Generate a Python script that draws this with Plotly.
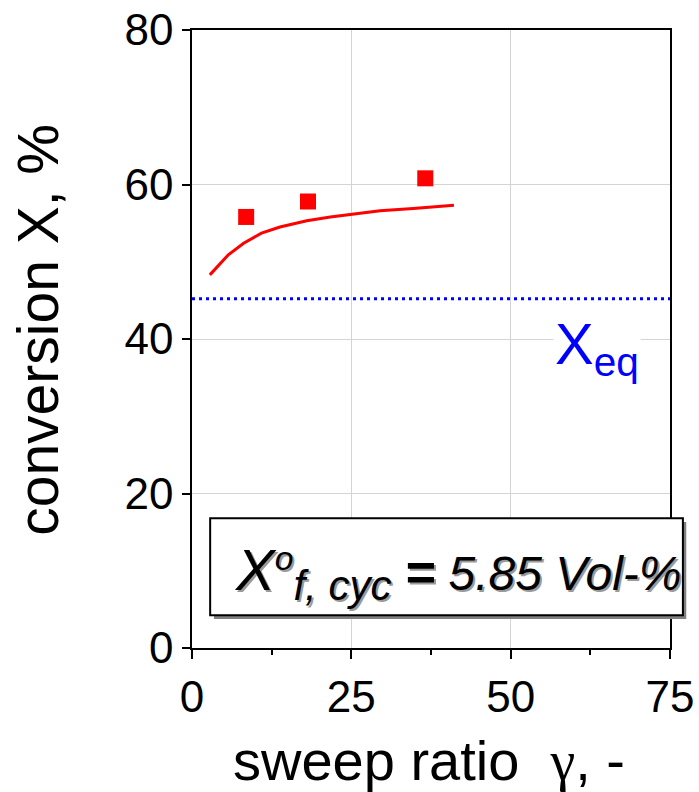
import plotly.graph_objects as go

# measured points
meas_x = [8.5, 18.2, 36.6]
meas_y = [55.8, 57.8, 60.8]

# model curve
model_x = [2.8, 5.7, 8.1, 10.9, 13.8, 18.0, 21.7, 25.2, 29.5, 34.7, 41.1]
model_y = [48.3, 50.9, 52.4, 53.7, 54.5, 55.3, 55.8, 56.2, 56.6, 56.9, 57.3]

# equilibrium conversion
eq_x = [0, 75]
eq_y = [45.2, 45.2]

x_ticks = [0, 25, 50, 75]
y_ticks = [0, 20, 40, 60, 80]

FONT = "Liberation Sans, Arial, sans-serif"

fig = go.Figure()
fig.add_trace(go.Scatter(x=eq_x, y=eq_y, mode="lines",
                         line=dict(color="#0000ff", width=3, dash="3px,4px"),
                         showlegend=False, hoverinfo="skip"))
fig.add_trace(go.Scatter(x=model_x, y=model_y, mode="lines",
                         line=dict(color="#ff0000", width=3),
                         showlegend=False))
fig.add_trace(go.Scatter(x=meas_x, y=meas_y, mode="markers",
                         marker=dict(symbol="square", size=16, color="#ff0000"),
                         showlegend=False))

# equilibrium label
fig.add_annotation(x=63.6, y=38.8, xref="x", yref="y",
                   text="X<sub>eq</sub>", showarrow=False,
                   font=dict(family=FONT, size=58, color="#0000ff"),
                   xanchor="center", yanchor="middle", bgcolor="white")

# boxed feed-concentration label (shadow + box)
fig.add_shape(type="rect", xref="paper", yref="paper",
              x0=0.046, x1=1.034, y0=0.047, y1=0.204,
              fillcolor="#808080", line=dict(width=0), layer="above")
fig.add_shape(type="rect", xref="paper", yref="paper",
              x0=0.038, x1=1.027, y0=0.053, y1=0.210,
              fillcolor="white", line=dict(color="black", width=2), layer="above")
fig.add_annotation(x=0.556, y=0.122, xref="paper", yref="paper",
                   text=("<i><span style='font-size:58px'>X</span><sup>o</sup>"
                         "<sub><span style='font-size:42px'>f, cyc</span></sub>"
                         " <b><span style='font-size:52px'>=</span></b> 5.85 Vol-%</i>"),
                   showarrow=False, xanchor="center", yanchor="middle",
                   font=dict(family=FONT, size=48, color="black",
                             shadow="2px 2px 0px #9a9a9a"))

# axis titles
fig.add_annotation(x=-0.322, y=0.515, xref="paper", yref="paper",
                   text="conversion X, %", textangle=-90, showarrow=False,
                   xanchor="center", yanchor="middle",
                   font=dict(family=FONT, size=57, color="black"))
fig.add_annotation(x=0.496, y=-0.182, xref="paper", yref="paper",
                   text="sweep ratio \u00a0<span style='font-family:Liberation Serif'>γ</span>, -",
                   showarrow=False, xanchor="center", yanchor="middle",
                   font=dict(family=FONT, size=56, color="black"))

axis_common = dict(
    showline=True, linecolor="black", linewidth=1.5, mirror=True,
    showgrid=True, gridcolor="#d4d4d4", gridwidth=1,
    ticks="outside", tickcolor="black", tickwidth=1.5,
    tickfont=dict(family=FONT, size=44, color="black"),
    zeroline=False, automargin=False,
)

fig.update_xaxes(range=[0, 75], tickvals=x_ticks, ticklen=9,
                 minor=dict(ticks="outside", dtick=12.5, ticklen=5, tickcolor="black", tickwidth=1.5, showgrid=False),
                 **axis_common)
fig.update_yaxes(range=[0, 80], tickvals=y_ticks, ticklen=8,
                 **axis_common)

fig.update_layout(
    width=699, height=792,
    margin=dict(l=192, r=29, t=30, b=144),
    paper_bgcolor="white", plot_bgcolor="white",
    font=dict(family=FONT),
)

fig.write_html("out.html")
